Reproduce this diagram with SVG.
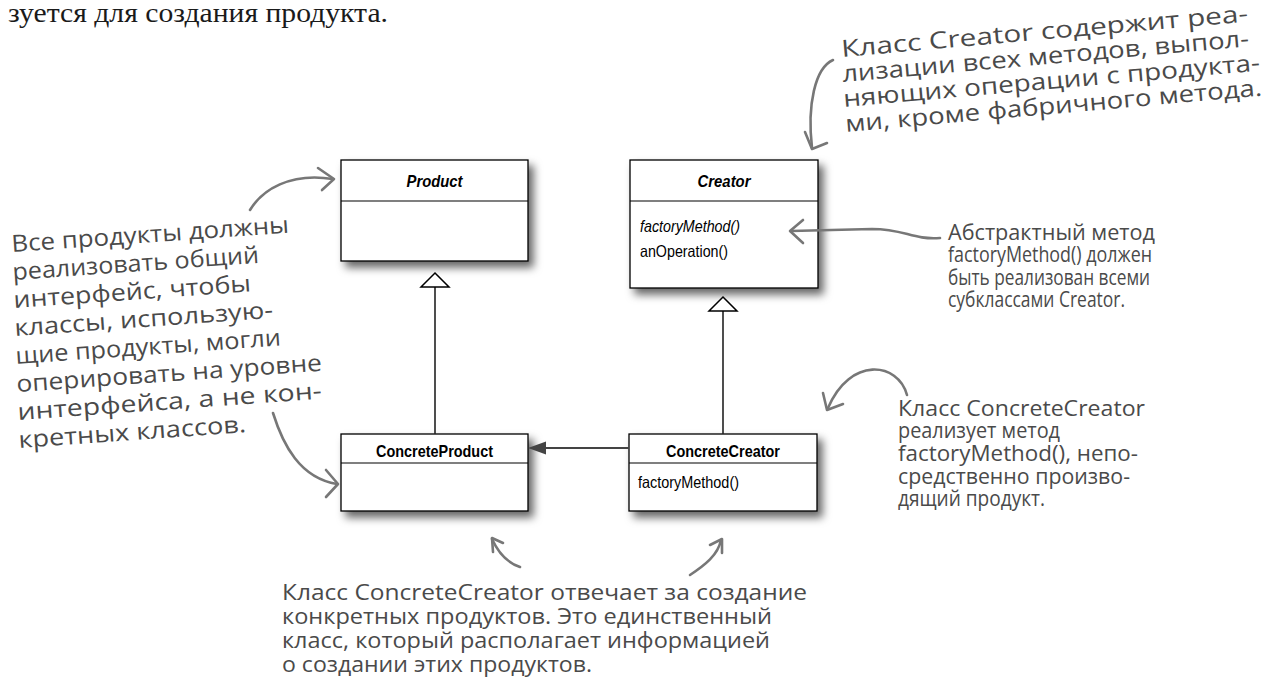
<svg xmlns="http://www.w3.org/2000/svg" width="1282" height="696" viewBox="0 0 1282 696">
<style>
.box{fill:#fff;stroke:#000;stroke-width:1.3}
.sep{stroke:#000;stroke-width:1.1}
.t{font-family:"Liberation Sans",Arial,sans-serif;font-size:16.5px;fill:#000}
.bt{font-weight:bold}
.it{font-style:italic}
.conn{fill:none;stroke:#222;stroke-width:1.6}
.ptr{fill:none;stroke:#777;stroke-width:2.6;stroke-linecap:round;stroke-linejoin:round}
.hand{font-family:"Open Sans","Noto Sans",sans-serif;font-size:22px;fill:#4a4a4a}
.big{font-size:23.5px}
.top{font-family:"Liberation Serif","Times New Roman",serif;font-size:27px;fill:#1a1a1a}
</style>
<defs>
<filter id="sh" x="-10%" y="-10%" width="130%" height="140%">
<feDropShadow dx="5" dy="6" stdDeviation="4" flood-color="#000" flood-opacity="0.6"/>
</filter>
</defs>
<rect width="1282" height="696" fill="#fff"/>
<text class="top" x="8" y="22" textLength="380" lengthAdjust="spacingAndGlyphs">зуется для создания продукта.</text>

<g id="product">
<rect class="box" x="341" y="160" width="187" height="101" filter="url(#sh)"/>
<line class="sep" x1="341" y1="201" x2="528" y2="201"/>
<text class="t bt it" x="434.5" y="187" text-anchor="middle" textLength="56" lengthAdjust="spacingAndGlyphs">Product</text>
</g>
<g id="creator">
<rect class="box" x="630" y="160" width="188" height="128" filter="url(#sh)"/>
<line class="sep" x1="630" y1="201" x2="818" y2="201"/>
<text class="t bt it" x="724" y="187" text-anchor="middle" textLength="53" lengthAdjust="spacingAndGlyphs">Creator</text>
<text class="t it" x="640" y="232" textLength="100" lengthAdjust="spacingAndGlyphs">factoryMethod()</text>
<text class="t" x="640" y="257" textLength="88" lengthAdjust="spacingAndGlyphs">anOperation()</text>
</g>
<g id="concreteproduct">
<rect class="box" x="341" y="434" width="187" height="77" filter="url(#sh)"/>
<line class="sep" x1="341" y1="463" x2="528" y2="463"/>
<text class="t bt" x="434.5" y="457" text-anchor="middle" textLength="117" lengthAdjust="spacingAndGlyphs">ConcreteProduct</text>
</g>
<g id="concretecreator">
<rect class="box" x="629" y="434" width="188" height="77" filter="url(#sh)"/>
<line class="sep" x1="629" y1="463" x2="817" y2="463"/>
<text class="t bt" x="723" y="457" text-anchor="middle" textLength="114" lengthAdjust="spacingAndGlyphs">ConcreteCreator</text>
<text class="t" x="638" y="488" textLength="101" lengthAdjust="spacingAndGlyphs">factoryMethod()</text>
</g>

<g id="connectors">
<line class="conn" x1="435" y1="287" x2="435" y2="434"/>
<polygon points="435,273 449,287 421,287" fill="#fff" stroke="#000" stroke-width="1.5"/>
<line class="conn" x1="723" y1="311" x2="723" y2="434"/>
<polygon points="723,297 737,311 709,311" fill="#fff" stroke="#000" stroke-width="1.5"/>
<line x1="629" y1="448" x2="542" y2="448" stroke="#444" stroke-width="2.2"/>
<polygon points="528,448 546,441.5 546,454.5" fill="#444"/>
</g>

<g id="pointers">
<path class="ptr" d="M833 60 C815 68 807 105 812 148"/>
<polyline class="ptr" points="805,132 812,149 827,143"/>
<path class="ptr" d="M250 210 C262 190 290 172 333 179"/>
<polyline class="ptr" points="318,168 334,179 322,190"/>
<path class="ptr" d="M273 413 C283 445 300 478 337 484"/>
<polyline class="ptr" points="326,470 338,484 326,497"/>
<path class="ptr" d="M940 238 C912 240 905 229 872 229 L791 231"/>
<polyline class="ptr" points="803,220 790,231 803,243"/>
<path class="ptr" d="M907 395 C898 362 850 356 828 408"/>
<polyline class="ptr" points="823,393 827,410 843,404"/>
<path class="ptr" d="M520 567 C505 562 497 550 492 539"/>
<polyline class="ptr" points="503,543 492,538 493,552"/>
<path class="ptr" d="M690 575 C705 565 718 555 721 540"/>
<polyline class="ptr" points="710,545 722,539 722,553"/>
</g>

<g id="note-creator">
<text class="hand big" x="842" y="57" transform="rotate(-5 842 57)" textLength="408" lengthAdjust="spacingAndGlyphs">Класс Creator содержит реа-</text>
<text class="hand big" x="843" y="82" transform="rotate(-5 843 82)" textLength="408" lengthAdjust="spacingAndGlyphs">лизации всех методов, выпол-</text>
<text class="hand big" x="844" y="107" transform="rotate(-5 844 107)" textLength="418" lengthAdjust="spacingAndGlyphs">няющих операции с продукта-</text>
<text class="hand big" x="846" y="132" transform="rotate(-5 846 132)" textLength="418" lengthAdjust="spacingAndGlyphs">ми, кроме фабричного метода.</text>
</g>
<g id="note-product">
<text class="hand big" x="12" y="252" transform="rotate(-4 12 252)" textLength="278" lengthAdjust="spacingAndGlyphs">Все продукты должны</text>
<text class="hand big" x="13" y="280" transform="rotate(-4 13 280)" textLength="247" lengthAdjust="spacingAndGlyphs">реализовать общий</text>
<text class="hand big" x="14" y="308" transform="rotate(-4 14 308)" textLength="238" lengthAdjust="spacingAndGlyphs">интерфейс, чтобы</text>
<text class="hand big" x="15" y="336" transform="rotate(-4 15 336)" textLength="259" lengthAdjust="spacingAndGlyphs">классы, использую-</text>
<text class="hand big" x="16" y="364" transform="rotate(-4 16 364)" textLength="266" lengthAdjust="spacingAndGlyphs">щие продукты, могли</text>
<text class="hand big" x="17" y="392" transform="rotate(-4 17 392)" textLength="306" lengthAdjust="spacingAndGlyphs">оперировать на уровне</text>
<text class="hand big" x="18" y="420" transform="rotate(-4 18 420)" textLength="305" lengthAdjust="spacingAndGlyphs">интерфейса, а не кон-</text>
<text class="hand big" x="19" y="448" transform="rotate(-4 19 448)" textLength="228" lengthAdjust="spacingAndGlyphs">кретных классов.</text>
</g>
<g id="note-abstract">
<text class="hand" x="948" y="240" textLength="207" lengthAdjust="spacingAndGlyphs">Абстрактный метод</text>
<text class="hand" x="948" y="262" textLength="204" lengthAdjust="spacingAndGlyphs">factoryMethod() должен</text>
<text class="hand" x="948" y="285" textLength="202" lengthAdjust="spacingAndGlyphs">быть реализован всеми</text>
<text class="hand" x="948" y="307" textLength="177" lengthAdjust="spacingAndGlyphs">субклассами Creator.</text>
</g>
<g id="note-concretecreator">
<text class="hand" x="898" y="416" textLength="247" lengthAdjust="spacingAndGlyphs">Класс ConcreteCreator</text>
<text class="hand" x="898" y="438" textLength="162" lengthAdjust="spacingAndGlyphs">реализует метод</text>
<text class="hand" x="898" y="461" textLength="240" lengthAdjust="spacingAndGlyphs">factoryMethod(), непо-</text>
<text class="hand" x="898" y="484" textLength="232" lengthAdjust="spacingAndGlyphs">средственно произво-</text>
<text class="hand" x="898" y="506" textLength="147" lengthAdjust="spacingAndGlyphs">дящий продукт.</text>
</g>
<g id="note-bottom">
<text class="hand" x="282" y="600" textLength="525" lengthAdjust="spacingAndGlyphs">Класс ConcreteCreator отвечает за создание</text>
<text class="hand" x="282" y="624" textLength="490" lengthAdjust="spacingAndGlyphs">конкретных продуктов. Это единственный</text>
<text class="hand" x="282" y="648" textLength="488" lengthAdjust="spacingAndGlyphs">класс, который располагает информацией</text>
<text class="hand" x="282" y="672" textLength="310" lengthAdjust="spacingAndGlyphs">о создании этих продуктов.</text>
</g>
</svg>
